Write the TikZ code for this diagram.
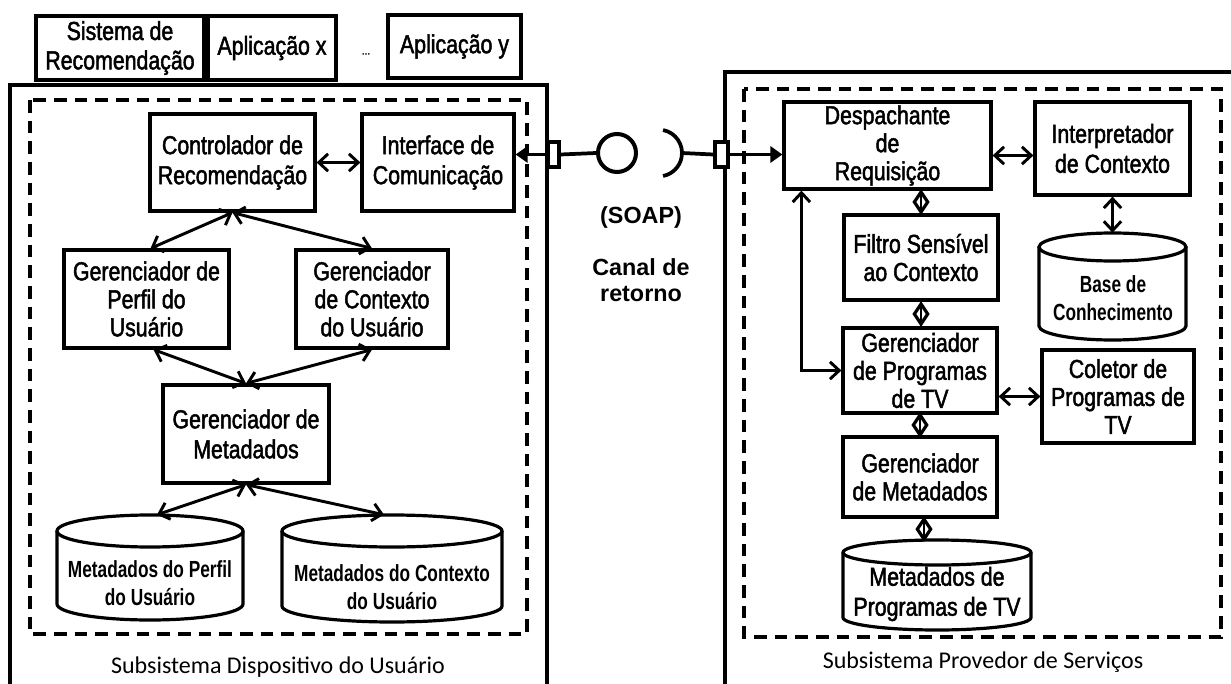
\documentclass[tikz,border=0pt]{standalone}
\usepackage{fontspec}
\setmainfont{Liberation Sans}
\newfontfamily\boxfont{Liberation Sans}[FakeStretch=0.82, FakeBold=1.8]
\newfontfamily\dbfont{Liberation Sans}[FakeStretch=0.74]
\newfontfamily\capfont{Carlito}
\usetikzlibrary{arrows.meta,calc,shapes.geometric}

\tikzset{
  boxline/.style={line width=2.4pt},
  comp/.style={draw, boxline, inner sep=0pt, align=center,
    font=\boxfont\fontsize{19.5}{21}\selectfont},
  topbox/.style={comp, line width=2.4pt},
  outerline/.style={line width=2.5pt},
  dashline/.style={line width=2.6pt, dash pattern=on 9.5pt off 6pt},
  dbtext/.style={inner sep=0pt, align=center,
    font=\dbfont\bfseries\fontsize{17.5}{21}\selectfont},
  dbtextreg/.style={inner sep=0pt, align=center,
    font=\boxfont\fontsize{19.5}{22.5}\selectfont},
  conn/.style={line width=2.2pt,
    {Straight Barb[length=7pt,width=13pt]}-{Straight Barb[length=7pt,width=13pt]}},
  linkmark/.style={diamond, draw, line width=2.4pt, fill=white, inner sep=0pt,
    minimum width=11pt, minimum height=16pt},
  stem/.style={line width=2pt},
  soapline/.style={line width=2.8pt},
  soaptip/.style={soapline, -{Triangle[length=9pt,width=12pt]}},
  port/.style={draw, line width=2.4pt, fill=white, inner sep=0pt},
  soaptext/.style={inner sep=0pt, align=center,
    font=\bfseries\fontsize{17.5}{19}\selectfont},
  captext/.style={inner sep=0pt, font=\capfont\fontsize{18}{20}\selectfont},
}

% box spanning two corners (pixel grid): style, name, x1, y1, x2, y2, text
\newcommand\spanbox[7]{%
  \node[#1, minimum width={(#5-#3)*0.75pt}, minimum height={(#6-#4)*0.75pt}]
    (#2) at ({(#3+#5)/2},{(#4+#6)/2}) {#7};
}

% database drum: name, x1, ytop, x2, ybottom, rim half-height
\newcommand\dbdrum[6]{%
  \node[inner sep=0pt, minimum width={(#4-#2)*0.75pt}, minimum height={(#5-#3)*0.75pt}]
    (#1) at ({(#2+#4)/2},{(#3+#5)/2}) {};
  \draw[boxline] (#2,#3+#6) -- (#2,#5-#6)
    arc[start angle=180, end angle=0, x radius={(#4-#2)/2}, y radius=#6]
    -- (#4,#3+#6);
  \draw[boxline] ({(#2+#4)/2},#3+#6) ellipse[x radius={(#4-#2)/2}, y radius=#6];
}

% short two-way link with a diamond marker: name, from, to
\newcommand\dlink[3]{%
  \path (#2) -- (#3) node[midway, linkmark] (#1) {};
  \draw[stem] (#2) -- (#3);
}

\begin{document}
\begin{tikzpicture}[x=0.75pt, y=-0.75pt]
  \useasboundingbox (0,0) rectangle (1231,684);
  \fill[white] (0,0) rectangle (1231,684);
  \clip (0,0) rectangle (1231,684);

  % ---------- applications on top of the device subsystem ----------
  \spanbox{topbox}{sysrec}{36}{16}{204}{80}{Sistema de\\[1pt]Recomendação}
  \spanbox{topbox}{appx}{208}{16}{336}{80}{Aplicação x}
  \node[inner sep=0pt, font=\boxfont\fontsize{9}{10}\selectfont] (dots) at (366,54) {...};
  \spanbox{topbox}{appy}{388}{15}{521}{78}{Aplicação y}

  % ---------- user device subsystem ----------
  \draw[outerline] (10,700) -- (10,85) -- (547,85) -- (547,700);
  \draw[dashline] (30,100) rectangle (527,634);

  \spanbox{comp}{ctrl}{150}{114}{315}{211}{Controlador de\\[1.5pt]Recomendação}
  \spanbox{comp}{iface}{362}{114}{514}{211}{Interface de\\[1.5pt]Comunicação}
  \spanbox{comp}{perfil}{64}{250}{229}{348}{Gerenciador de\\Perfil do\\Usuário}
  \spanbox{comp}{ctx}{296}{250}{448}{348}{Gerenciador\\de Contexto\\do Usuário}
  \spanbox{comp}{gm}{163}{385}{329}{483}{Gerenciador de\\[1.5pt]Metadados}

  \dbdrum{cylA}{57}{515}{243}{620}{16}
  \node[dbtext] (cylAtxt) at (150,583) {Metadados do Perfil\\do Usuário};
  \dbdrum{cylB}{282}{515}{502}{622}{16}
  \node[dbtext] (cylBtxt) at (392,587) {Metadados do Contexto\\do Usuário};

  \draw[conn] (ctrl.east) -- (iface.west);
  \draw[conn] (ctrl.south) -- ($(perfil.north)+(4,0)$);
  \draw[conn] (ctrl.south) -- (ctx.north);
  \draw[conn] ($(perfil.south)+(7,0)$) -- (gm.north);
  \draw[conn] (ctx.south) -- (gm.north);
  \draw[conn] (gm.south) -- ($(cylA.north)+(7,0)$);
  \draw[conn] (gm.south) -- ($(cylB.north)+(-8,0)$);

  \node[captext] (capL) at (278,667) {Subsistema Dispositivo do Usuário};

  % ---------- service provider subsystem ----------
  \draw[outerline] (725,700) -- (725,72) -- (1250,72);
  \draw[dashline] (744,89) rectangle (1221,637);

  \spanbox{comp}{desp}{784}{102}{991}{189}{Despachante\\de\\Requisição}
  \spanbox{comp}{interp}{1035}{102}{1190}{195}{Interpretador\\[1.5pt]de Contexto}
  \spanbox{comp}{filt}{844}{215}{998}{300}{Filtro Sensível\\ao Contexto}
  \spanbox{comp}{gp}{843}{328}{997}{413}{Gerenciador\\de Programas\\de TV}
  \spanbox{comp}{col}{1042}{350}{1194}{443}{Coletor de\\Programas de\\TV}
  \spanbox{comp}{gm2}{843}{437}{997}{517}{Gerenciador\\de Metadados}

  \dbdrum{base}{1039}{233}{1186}{340}{14}
  \node[dbtext] (basetxt) at (1113,298) {Base de\\Conhecimento};
  \dbdrum{prog}{843}{540}{1031}{630}{12.5}
  \node[dbtextreg] (progtxt) at (937,594) {Metadados de\\Programas de TV};

  \coordinate (dpi) at ($(desp.east)+(0,10)$);
  \draw[conn] (dpi) -- (dpi -| interp.west);
  \draw[conn] (interp.south) -- (base.north);
  \draw[conn] (gp.east |- col.west) -- (col.west);
  \coordinate (dl) at ($(desp.south west)+(19,0)$);
  \draw[conn] (dl) |- (gp.west);

  \dlink{lk1}{filt.north |- desp.south}{filt.north}
  \dlink{lk2}{filt.south}{gp.north -| filt.south}
  \dlink{lk3}{gp.south}{gm2.north}
  \coordinate (gmp) at ($(gm2.south)+(4,0)$);
  \dlink{lk4}{gmp}{gmp |- prog.north}

  \node[captext] (capR) at (983,662) {Subsistema Provedor de Serviços};

  % ---------- return channel (SOAP) ----------
  \spanbox{port}{portL}{548}{142}{559}{167}{}
  \spanbox{port}{portR}{715}{142}{728}{167}{}
  \node[draw, circle, line width=3pt, inner sep=0pt, minimum size=28.5pt] (ball) at (617,153) {};
  \coordinate (sock) at (682,153);

  \draw[soaptip] (portL.west) -- (portL.west -| iface.east);
  \draw[soapline] (portL.east) -- (ball.west);
  \draw[soapline] ($(sock)+(-23.4,0)+(-79:23.4)$) arc[start angle=-79, end angle=79, radius=23.4];
  \draw[soapline] (sock) -- (portR.west);
  \draw[soaptip] (portR.east) -- (portR.east -| desp.west);

  \node[soaptext] (soap) at (641,217) {(SOAP)};
  \node[soaptext] (canal) at (641,280) {Canal de\\retorno};
\end{tikzpicture}
\end{document}
